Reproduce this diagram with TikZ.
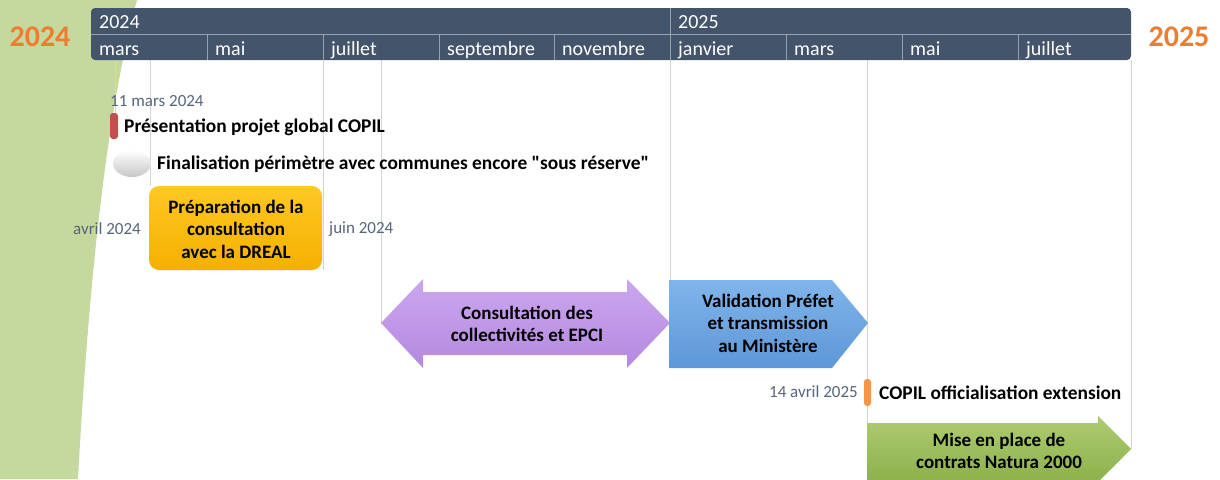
\documentclass[tikz,border=0pt]{standalone}
\usepackage{fontspec}
\setmainfont{Carlito}[Ligatures=TeXOff]
\usetikzlibrary{positioning}

\definecolor{barslate}{HTML}{44546A}
\definecolor{datecol}{HTML}{56657C}
\definecolor{yearorange}{HTML}{ED7D31}
\definecolor{leafgreen}{HTML}{C5D89E}
\definecolor{gridgrey}{HTML}{D4D4D4}
\definecolor{markred}{HTML}{C0504D}
\definecolor{markorange}{HTML}{F79646}
\definecolor{preptop}{HTML}{FFC824}
\definecolor{prepbot}{HTML}{F4B000}
\definecolor{constop}{HTML}{CBA7EF}
\definecolor{consbot}{HTML}{B589DF}
\definecolor{validtop}{HTML}{80B5EA}
\definecolor{validbot}{HTML}{5E97D8}
\definecolor{naturatop}{HTML}{AECC72}
\definecolor{naturabot}{HTML}{8DB04A}

\tikzset{
  monthtxt/.style={anchor=base west,text=white,font=\fontsize{20}{20}\selectfont,inner sep=0pt},
  datetxt/.style={text=datecol,font=\fontsize{17}{17}\selectfont,inner sep=0pt},
  tasktxt/.style={anchor=west,font=\bfseries\fontsize{19.4}{19.4}\selectfont,inner sep=0pt},
  boxtxt/.style={align=center,font=\bfseries\fontsize{19}{22.5}\selectfont,inner sep=0pt},
  bigyear/.style={text=yearorange,font=\bfseries\fontsize{30}{30}\selectfont,inner sep=0pt},
  gridline/.style={gridgrey,line width=0.9pt},
}

\begin{document}
\begin{tikzpicture}[x=1pt,y=-1pt]
    \useasboundingbox (0,0) rectangle (1220,479);
    % green band on the left
    \fill[leafgreen] (0,0) -- (137,0) .. controls (115,80) and (92,220) .. (78,479) -- (0,479) -- cycle;
    % grid lines below the bar
    \draw[gridline] (115,60) -- (115,113);
    \draw[gridline] (150,60) -- (150,186);
    \draw[gridline] (323,60) -- (323,270);
    \draw[gridline] (381,60) -- (381,323);
    \draw[gridline] (670,60) -- (670,280);
    \draw[gridline] (867,60) -- (867,424);
    \draw[gridline] (1131,60) -- (1131,449);
    % time bar
    \fill[barslate,rounded corners=4pt] (91,8) rectangle (1131,60);
    \draw[barslate!55!white,line width=0.8pt] (91,34) -- (1131,34);
    \foreach \x in {207,323,439,554,786,902,1018}
        \draw[barslate!55!white,line width=0.8pt] (\x,34) -- (\x,60);
    \draw[barslate!55!white,line width=0.8pt] (670,8) -- (670,60);
    \node[monthtxt] (y24) at (99,28) {2024};
    \node[monthtxt] (y25) at (678,28) {2025};
    \foreach \x/\m [count=\i] in {91/mars,207/mai,323/juillet,439/septembre,554/novembre,670/janvier,786/mars,902/mai,1018/juillet}
        \node[monthtxt] (m\i) at (\x+8,55) {\m};
    \node[bigyear] (big24) at (40,37) {2024};
    \node[bigyear] (big25) at (1179,37) {2025};
    % milestone 11 mars
    \node[datetxt,anchor=west] (d1) at (110,101) {11 mars 2024};
    \fill[markred,rounded corners=3pt] (110,113) rectangle (118,139);
    \node[tasktxt] (t1) at (124,127) {Présentation projet global COPIL};
    % perimetre
    \shade[top color=white,bottom color=black!22] (132,163.5) ellipse (19 and 13.5);
    \node[tasktxt] (t2) at (157,164) {Finalisation périmètre avec communes encore "sous réserve"};
    % preparation consultation
    \shade[top color=preptop,bottom color=prepbot,rounded corners=10pt] (149,186) rectangle (322,270);
    \node[boxtxt] (prep) at (236,229) {Préparation de la\\consultation\\avec la DREAL};
    \node[datetxt,anchor=east] (d2) at (141,229) {avril 2024};
    \node[datetxt,anchor=west] (d3) at (329,229) {juin 2024};
    % consultation (double arrow)
    \shade[top color=constop,bottom color=consbot]
        (381,323) -- (423,279) -- (423,292) -- (627,292) -- (627,279) -- (670,323)
        -- (627,368) -- (627,355) -- (423,355) -- (423,368) -- cycle;
    \node[boxtxt] (cons) at (527,324) {Consultation des\\collectivités et EPCI};
    % validation (pentagon)
    \shade[top color=validtop,bottom color=validbot]
        (669,280) -- (832,280) -- (868,323) -- (832,368) -- (669,368) -- cycle;
    \node[boxtxt] (valid) at (768,323) {Validation Préfet\\et transmission\\au Ministère};
    % milestone 14 avril 2025
    \fill[markorange,rounded corners=3pt] (864,379) rectangle (871,406);
    \node[datetxt,anchor=east] (d4) at (858,392) {14 avril 2025};
    \node[tasktxt] (t3) at (879,393) {COPIL officialisation extension};
    % natura 2000 arrow
    \shade[top color=naturatop,bottom color=naturabot]
        (867,423) -- (1098,423) -- (1098,416) -- (1131,449) -- (1098,482)
        -- (1098,480) -- (867,480) -- cycle;
    \node[boxtxt] (natura) at (999,451) {Mise en place de\\contrats Natura 2000};
\end{tikzpicture}
\end{document}
